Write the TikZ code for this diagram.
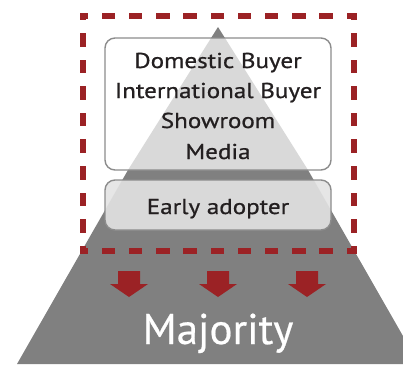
\documentclass[tikz,border=0pt]{standalone}
\usepackage{fontspec}
\setmainfont{PT Sans}
\newfontfamily\boxfont{PT Sans}[FakeStretch=1.165, FakeBold=0.8]
\newfontfamily\majfont{PT Sans}[FakeBold=0.5]
\definecolor{dred}{RGB}{155,34,37}
\definecolor{dgray}{RGB}{128,128,128}
\definecolor{bordergray}{RGB}{140,140,140}
\definecolor{txt}{RGB}{35,31,32}
\begin{document}
\begin{tikzpicture}[x=1pt,y=-1pt,
  box/.style={draw=bordergray, line width=1.4pt, rounded corners=10pt, inner sep=0pt},
  linefont/.style={font=\boxfont\fontsize{21.5}{25}\selectfont, text=txt, anchor=base, inner sep=0pt},
  dashside/.style={draw=dred, line width=6.5pt, line cap=rect},
  hdash/.style={dashside, dash pattern=on 7pt off 20.2pt, dash phase=5.25pt},
  vdash/.style={dashside, dash pattern=on 7pt off 19.6pt, dash phase=6.35pt},
  arrowshape/.style={fill=dred}]
\useasboundingbox (0,0) rectangle (403,364);
% pyramid
\fill[dgray] (218,27) -- (308,170) -- (419,364) -- (17,364) -- (128,170) -- cycle;
% boxes
\node[box, fill=white, fill opacity=0.7, minimum width=226pt, minimum height=132pt] (top) at (218,104) {};
\node[box, fill=white!89!black, fill opacity=0.9, minimum width=226pt, minimum height=50pt] (ea) at (218,205) {};
% texts
\node[linefont] (l1) at (218,68) {Domestic Buyer};
\node[linefont] (l2) at (218,98) {International Buyer};
\node[linefont] (l3) at (218,128) {Showroom};
\node[linefont] (l4) at (218,159) {Media};
\node[linefont] (l5) at (218,214) {Early adopter};
% dashed frame
\coordinate (tl) at (83,16);
\coordinate (tr) at (354,16);
\coordinate (bl) at (83,251);
\coordinate (br) at (354,251);
\draw[hdash] (tl) -- (tr);
\draw[hdash] (bl) -- (br);
\draw[vdash] (tl) -- (bl);
\draw[vdash] (tr) -- (br);
% arrows
\foreach \x in {129,218,307}
  \fill[arrowshape] (\x-11,271) -- (\x+11,271) -- (\x+11,284) -- (\x+19,284) -- (\x,297) -- (\x-19,284) -- (\x-11,284) -- cycle;
% majority
\node[font=\majfont\fontsize{43}{50}\selectfont, text=white, anchor=base, inner sep=0pt] (maj) at (218,344) {Majority};
\end{tikzpicture}
\end{document}
